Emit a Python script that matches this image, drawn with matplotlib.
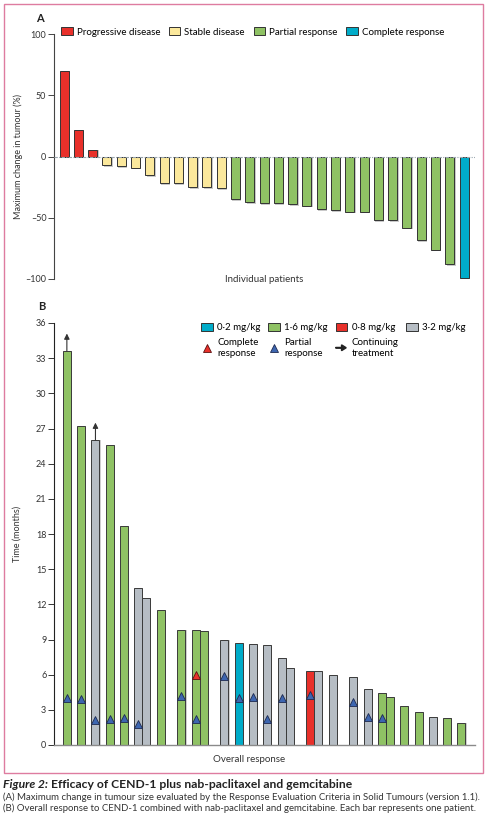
import matplotlib
matplotlib.use("Agg")
import matplotlib.pyplot as plt
import matplotlib.patches as mpatches
from matplotlib.lines import Line2D
from matplotlib.legend_handler import HandlerPatch
import numpy as np

plt.rcParams['font.family'] = ['Lato', 'DejaVu Sans']

# ---- panel A data: maximum change in tumour (%) ----
a_response = ["PD"] * 3 + ["SD"] * 9 + ["PR"] * 16 + ["CR"]
a_change = [70, 22, 5,
            -7, -8, -9, -15, -22, -22, -25, -25, -26,
            -35, -37, -38, -38, -39, -40, -43, -44, -45, -45,
            -52, -52, -58, -68, -76, -88,
            -99]
a_labels = {"PD": "Progressive disease", "SD": "Stable disease",
            "PR": "Partial response", "CR": "Complete response"}

# ---- panel B data: time on treatment (months) ----
b_dose = ["1.6", "1.6", "3.2", "1.6", "1.6", "3.2", "3.2", "1.6",
          "1.6", "1.6", "1.6", "3.2", "0.2", "3.2", "3.2", "3.2", "3.2",
          "0.8", "3.2", "3.2", "3.2", "3.2", "1.6", "1.6", "1.6", "1.6",
          "3.2", "1.6", "1.6"]
b_months = [33.6, 27.2, 26.0, 25.6, 18.7, 13.4, 12.5, 11.5,
            9.8, 9.8, 9.7, 8.95, 8.7, 8.6, 8.5, 7.4, 6.6,
            6.35, 6.35, 6.0, 5.8, 4.8, 4.4, 4.1, 3.3, 2.8,
            2.4, 2.3, 1.85]
# partial response: (bar index, month)
b_partial = [(0, 4.05), (1, 3.9), (2, 2.1), (3, 2.2), (4, 2.3), (5, 1.8),
             (8, 4.2), (9, 2.25), (11, 5.85), (12, 4.0), (13, 4.1),
             (14, 2.2), (15, 4.05), (17, 4.25), (20, 3.7), (21, 2.4),
             (22, 2.3)]
b_complete = [(9, 5.95)]
b_continuing = [0, 2]
b_dose_labels = {"0.2": "0·2 mg/kg", "1.6": "1·6 mg/kg",
                 "0.8": "0·8 mg/kg", "3.2": "3·2 mg/kg"}

# layout of panel B bars: 'n' normal step, 't' touching, 'g' group gap
b_steps = "nnnnntngntgnnnntgtngnntnnnnn"

col_a = {"PD": "#e8302a", "SD": "#fbe89c", "PR": "#8fc264", "CR": "#00acc9"}
col_b = {"0.2": "#00acc9", "1.6": "#8fc264", "0.8": "#e8302a", "3.2": "#b6bdc4"}
tri_blue = "#3d66b0"
tri_red = "#e8302a"

W, H = 486, 826
fig = plt.figure(figsize=(W / 100, H / 100), dpi=100)

def fx(px):
    return px / W

def fy(py):
    return 1 - py / H

fs = 7

# ================= panel A =================
axA = fig.add_axes([fx(54), fy(279), fx(475) - fx(54), fy(34) - fy(279)])
xa = np.arange(len(a_change))
ca = [col_a[r] for r in a_response]
shadow_off = [v - 1.5 if v < 0 else v for v in a_change]
axA.bar(xa + 0.1, shadow_off, width=0.63, color="#c9c9c9", zorder=1)
axA.bar(xa, a_change, width=0.63, color=ca, edgecolor="#333333",
        linewidth=0.7, zorder=2, clip_on=False)
axA.axhline(0, color="#9aa6ae", lw=0.8, ls=(0, (3, 1.2, 1, 1.2)), zorder=3)
axA.set_ylim(-100, 100)
axA.set_xlim(-0.7, 28.77)
axA.set_yticks([-100, -50, 0, 50, 100])
axA.set_yticklabels(["–100", "–50", "0", "50", "100"])
axA.set_xticks([])
for s in ["top", "right", "bottom"]:
    axA.spines[s].set_visible(False)
axA.spines["left"].set_color("#444444")
axA.spines["left"].set_linewidth(0.8)
axA.tick_params(axis="y", labelsize=fs - 0.5, length=4, width=0.7,
                color="#444444", labelcolor="#333333", pad=1.5)
axA.set_ylabel("Maximum change in tumour (%)", fontsize=fs - 0.5,
               color="#333333", labelpad=2)
axA.text(0.5, -100, "Individual patients", transform=axA.get_yaxis_transform(),
         ha="center", va="center", fontsize=fs, color="#333333")
handles_a = [mpatches.Patch(facecolor=col_a[k], edgecolor="#333333", lw=0.7,
                            label=a_labels[k]) for k in ["PD", "SD", "PR", "CR"]]
axA.legend(handles=handles_a, loc="upper left", bbox_to_anchor=(0.012, 1.035),
           ncol=4, frameon=False, fontsize=fs, handlelength=1.2,
           handleheight=0.85, handletextpad=0.4, columnspacing=0.9,
           borderaxespad=0, borderpad=0.2)
fig.text(fx(40), fy(18), "A", fontsize=8, fontweight="bold", ha="center",
         va="center", color="#222222")

# ================= panel B =================
axB = fig.add_axes([fx(54), fy(745), fx(475) - fx(54), fy(323) - fy(745)])
step_len = {"n": 1.0, "t": 0.56, "g": 1.45}
xb = np.concatenate([[0.0], np.cumsum([step_len[c] for c in b_steps])])
cb = [col_b[d] for d in b_dose]
axB.bar(xb + 0.08, b_months, width=0.56, color="#cfcfcf", zorder=1)
axB.bar(xb, b_months, width=0.56, color=cb, edgecolor="#3a3a3a",
        linewidth=0.7, zorder=2)
px = [xb[i] for i, _ in b_partial]
py = [m for _, m in b_partial]
axB.plot(px, py, ls="none", marker="^", ms=5.5, mfc=tri_blue, mec="#1e2a50",
         mew=0.6, zorder=4)
cx = [xb[i] for i, _ in b_complete]
cy = [m for _, m in b_complete]
axB.plot(cx, cy, ls="none", marker="^", ms=5.5, mfc=tri_red, mec="#5a1010",
         mew=0.6, zorder=4)
for i in b_continuing:
    axB.annotate("", xy=(xb[i], b_months[i] + 1.5), xytext=(xb[i], b_months[i]),
                 arrowprops=dict(arrowstyle="-|>", color="#333333", lw=0.8,
                                 mutation_scale=8, shrinkA=0, shrinkB=0),
                 annotation_clip=False)
axB.set_ylim(0, 36)
axB.set_xlim(-0.9, 28.55)
axB.set_yticks(np.arange(0, 37, 3))
axB.set_xticks([])
for s in ["top", "right"]:
    axB.spines[s].set_visible(False)
axB.spines["left"].set_color("#222222")
axB.spines["left"].set_linewidth(0.8)
axB.spines["bottom"].set_color("#8a8a8a")
axB.spines["bottom"].set_linewidth(1.0)
axB.tick_params(axis="y", labelsize=fs - 0.5, length=4, width=0.7,
                color="#333333", labelcolor="#333333", pad=1.5)
axB.set_ylabel("Time (months)", fontsize=fs - 0.5, color="#333333", labelpad=10)
axB.text(0.463, -0.035, "Overall response", transform=axB.transAxes,
         ha="center", va="center", fontsize=fs, color="#333333")


class ArrowHandle(mpatches.Patch):
    pass


def make_arrow(legend, orig_handle, xdescent, ydescent, width, height, fontsize):
    return mpatches.FancyArrow(0, height / 2, width * 0.9, 0,
                               length_includes_head=True, width=height * 0.08,
                               head_width=height * 0.75, head_length=height * 0.6,
                               color="#222222")


tri_b = Line2D([], [], ls="none", marker="^", ms=5.5, mfc=tri_blue,
               mec="#1e2a50", mew=0.6)
tri_r = Line2D([], [], ls="none", marker="^", ms=5.5, mfc=tri_red,
               mec="#5a1010", mew=0.6)
arrow_h = ArrowHandle(color="#222222")
blank = mpatches.Patch(alpha=0)
dose_p = {k: mpatches.Patch(facecolor=col_b[k], edgecolor="#333333", lw=0.7)
          for k in col_b}
handles_b = [dose_p["0.2"], tri_r, dose_p["1.6"], tri_b,
             dose_p["0.8"], arrow_h, dose_p["3.2"], blank]
labels_b = [b_dose_labels["0.2"], "Complete\nresponse",
            b_dose_labels["1.6"], "Partial\nresponse",
            b_dose_labels["0.8"], "Continuing\ntreatment",
            b_dose_labels["3.2"], ""]
legB = axB.legend(handles_b, labels_b, loc="upper left",
                  bbox_to_anchor=(0.345, 1.005),
                  ncol=4, frameon=False, fontsize=fs, handlelength=1.2,
                  handleheight=0.85, handletextpad=0.45, columnspacing=0.8,
                  borderaxespad=0, borderpad=0.2, labelspacing=0.6,
                  handler_map={ArrowHandle: HandlerPatch(patch_func=make_arrow)})
for t in legB.get_texts():
    t.set_linespacing(1.35)
fig.text(fx(42), fy(306), "B", fontsize=8, fontweight="bold", ha="center",
         va="center", color="#222222")

# ---- frame and caption ----
fig.add_artist(mpatches.Rectangle((fx(3.5), fy(772.5)), fx(482.5) - fx(3.5),
                                  fy(3.5) - fy(772.5), transform=fig.transFigure,
                                  fill=False, edgecolor="#de7ca0", lw=1.0))
t1 = fig.text(fx(3), fy(785), "Figure 2:", fontsize=8.7, fontweight="bold",
              fontstyle="italic", va="center", color="#222222")
fig.canvas.draw()
bb = t1.get_window_extent()
fig.text(bb.x1 / fig.dpi / fig.get_figwidth() + fx(3), fy(785),
         "Efficacy of CEND-1 plus nab-paclitaxel and gemcitabine",
         fontsize=8.7, fontweight="bold", va="center", color="#222222")
fig.text(fx(3), fy(797),
         "(A) Maximum change in tumour size evaluated by the Response Evaluation "
         "Criteria in Solid Tumours (version 1.1).",
         fontsize=6.9, va="center", color="#333333")
fig.text(fx(3), fy(808.5),
         "(B) Overall response to CEND-1 combined with nab-paclitaxel and "
         "gemcitabine. Each bar represents one patient.",
         fontsize=6.9, va="center", color="#333333")

fig.savefig("out.png", dpi=100)
